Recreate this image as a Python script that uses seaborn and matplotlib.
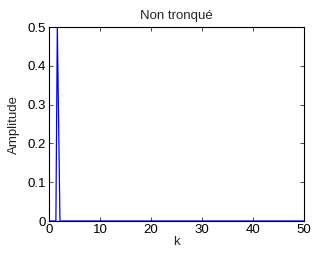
import numpy as np
import pandas as pd
import seaborn as sns
import matplotlib
matplotlib.use("Agg")
import matplotlib.pyplot as plt

# spectrum: zero everywhere except one narrow peak near k = 1.6
k = [0, 1.35, 1.63, 2.15, 50]
amplitude = [0, 0, 0.5, 0, 0]

df = pd.DataFrame({"k": k, "Amplitude": amplitude})

sns.set_style("ticks", {"xtick.direction": "in", "ytick.direction": "in"})
plt.rcParams["font.family"] = ["Liberation Sans", "DejaVu Sans"]
plt.rcParams["font.size"] = 9.5

fig = plt.figure(figsize=(3.12, 2.54), dpi=100)
ax = fig.add_axes([49 / 312, 1 - 221 / 254, 255 / 312, 194 / 254])

sns.lineplot(data=df, x="k", y="Amplitude", ax=ax, color=(0, 0, 1),
             linewidth=0.9, estimator=None, sort=False)

ax.set_xlim(0, 50)
ax.set_ylim(0, 0.5)
ax.set_xticks([0, 10, 20, 30, 40, 50])
ax.set_yticks([0, 0.1, 0.2, 0.3, 0.4, 0.5])
ax.set_yticklabels(["0", "0.1", "0.2", "0.3", "0.4", "0.5"])
ax.tick_params(axis="both", which="both", direction="in", length=3, width=0.5,
               top=True, right=True, labelsize=9.5, colors="black", pad=2.5)
for s in ax.spines.values():
    s.set_visible(True)
    s.set_color("black")
    s.set_linewidth(0.8)

ax.set_title("Non tronqué", fontsize=9.5, pad=6)
ax.set_xlabel("k", fontsize=9.5, labelpad=0)
ax.set_ylabel("Amplitude", fontsize=9.5, labelpad=5)

fig.savefig("out.png", dpi=100)
